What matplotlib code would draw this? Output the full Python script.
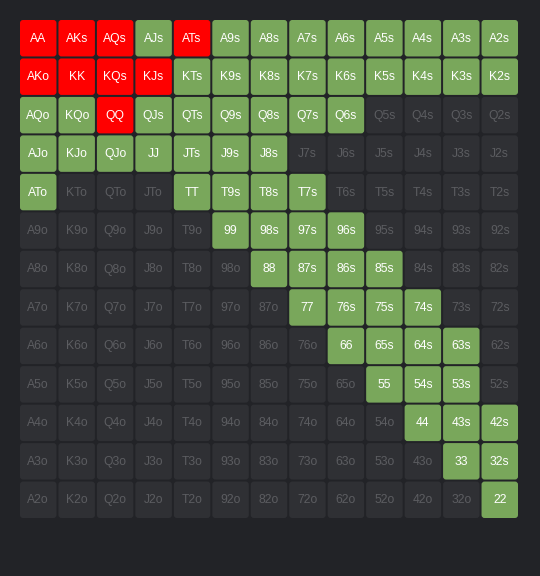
import matplotlib
matplotlib.use("Agg")
import matplotlib.pyplot as plt
from matplotlib.patches import FancyBboxPatch

ranks = ['A', 'K', 'Q', 'J', 'T', '9', '8', '7', '6', '5', '4', '3', '2']
red_hands = ['AA', 'AKs', 'AQs', 'ATs', 'AKo', 'KK', 'KQs', 'KJs', 'QQ']
green_hands = ['AJs', 'A9s', 'A8s', 'A7s', 'A6s', 'A5s', 'A4s', 'A3s', 'A2s',
               'KTs', 'K9s', 'K8s', 'K7s', 'K6s', 'K5s', 'K4s', 'K3s', 'K2s',
               'AQo', 'KQo', 'QJs', 'QTs', 'Q9s', 'Q8s', 'Q7s', 'Q6s',
               'AJo', 'KJo', 'QJo', 'JJ', 'JTs', 'J9s', 'J8s',
               'ATo', 'TT', 'T9s', 'T8s', 'T7s',
               '99', '98s', '97s', '96s',
               '88', '87s', '86s', '85s',
               '77', '76s', '75s', '74s',
               '66', '65s', '64s', '63s',
               '55', '54s', '53s',
               '44', '43s', '42s',
               '33', '32s',
               '22']

bg = '#222327'
colors = {'red': '#ff0000', 'green': '#79a75b', 'off': '#2f3034'}

fig = plt.figure(figsize=(5.4, 5.76), dpi=100)
fig.patch.set_facecolor(bg)
ax = fig.add_axes([0, 0, 1, 1])
ax.set_xlim(0, 540)
ax.set_ylim(576, 0)
ax.axis('off')

x0, y0 = 20, 20
pitch = 500 / 13
size = pitch - 2

for i, r1 in enumerate(ranks):
    for j, r2 in enumerate(ranks):
        if i == j:
            hand = r1 + r2
        elif j > i:
            hand = r1 + r2 + 's'
        else:
            hand = r2 + r1 + 'o'
        if hand in red_hands:
            fc, tc = colors['red'], 'white'
        elif hand in green_hands:
            fc, tc = colors['green'], 'white'
        else:
            fc, tc = colors['off'], '#5c5d61'
        x = x0 + j * pitch
        y = y0 + i * pitch
        ax.add_patch(FancyBboxPatch((x + 3, y + 3), size - 6, size - 6,
                                    boxstyle='round,pad=3', fc=fc, ec='none'))
        ax.text(x + size / 2, y + size / 2 + 0.5, hand, color=tc, fontsize=8.7,
                ha='center', va='center', family='Liberation Sans')

fig.savefig('out.png', dpi=100, facecolor=bg)
